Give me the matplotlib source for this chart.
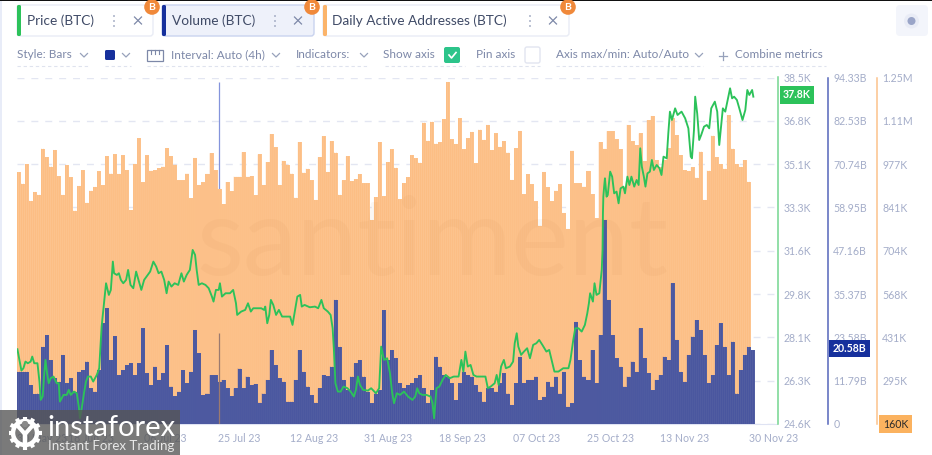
import numpy as np
import matplotlib
matplotlib.use('Agg')
import matplotlib.pyplot as plt
from matplotlib.patches import FancyBboxPatch, Rectangle, Circle

plt.rcParams['font.family'] = ['Lato', 'DejaVu Sans']

# daily active addresses, thousands, one value per day
dau_k = [952, 916, 977, 862, 890, 881, 1026, 999, 970, 1022, 939, 881, 974, 936, 831, 909, 958, 856, 894, 906,
         955, 911, 1003, 948, 1008, 947, 1005, 959, 833, 978, 1059, 921, 1005, 957, 958, 965, 970, 1028, 1002, 976,
         926, 926, 948, 870, 997, 912, 920, 947, 1012, 958, 900, 852, 921, 892, 938, 938, 1015, 938, 940, 879,
         1008, 912, 984, 1072, 1030, 912, 988, 976, 948, 872, 1047, 951, 963, 926, 865, 999, 1065, 953, 1050, 1014,
         881, 926, 1002, 924, 930, 946, 917, 917, 802, 874, 1047, 876, 984, 1024, 966, 867, 918, 936, 1005, 996,
         982, 1108, 1051, 1111, 1042, 1046, 1119, 1236, 1055, 1041, 1122, 1024, 1059, 1079, 980, 1086, 1054, 1101, 1022, 1074,
         1032, 1050, 1014, 928, 1027, 1082, 882, 946, 914, 860, 784, 953, 904, 861, 894, 914, 824, 774, 1020, 917,
         917, 907, 956, 883, 807, 1047, 1026, 1081, 1081, 1055, 1024, 907, 1101, 1049, 1037, 1074, 987, 1116, 1129, 990,
         969, 990, 1027, 1122, 1069, 1006, 959, 956, 967, 935, 1017, 865, 957, 1067, 999, 978, 963, 1132, 1026, 978,
         969, 990, 922]

# volume, billions, one value per day
volume_b = [14.2, 14.2, 14.2, 10.6, 8.2, 8.3, 21.0, 24.2, 17.4, 12.4, 11.5, 18.8, 11.1, 12.4, 8.8, 14.2, 14.7, 17.0, 9.7, 8.8,
            14.7, 27.4, 31.5, 17.4, 23.9, 13.3, 14.7, 16.0, 16.5, 13.3, 16.5, 26.0, 13.8, 10.6, 15.6, 12.0, 13.8, 21.5, 10.2, 7.6,
            8.8, 14.7, 11.1, 14.2, 25.6, 19.2, 7.9, 8.3, 13.3, 13.3, 11.5, 12.0, 9.7, 7.6, 9.7, 15.1, 9.7, 12.9, 10.6, 10.9,
            5.8, 8.3, 12.0, 20.1, 16.0, 12.4, 11.5, 6.1, 6.1, 12.0, 20.1, 14.2, 10.2, 7.9, 5.8, 9.7, 13.3, 13.0, 15.6, 33.8,
            21.0, 12.0, 9.2, 12.9, 16.5, 17.4, 12.9, 8.8, 5.6, 8.3, 9.2, 31.0, 17.4, 20.1, 17.9, 11.1, 9.7, 10.6, 11.1, 12.4,
            13.3, 9.7, 5.6, 9.2, 18.3, 15.6, 13.3, 12.9, 11.1, 6.5, 11.1, 14.2, 13.3, 12.9, 10.6, 8.8, 6.1, 9.7, 9.7, 8.8,
            11.1, 13.8, 8.3, 5.2, 11.1, 18.3, 11.1, 12.0, 12.0, 12.9, 6.5, 7.4, 11.5, 10.2, 12.9, 8.3, 14.2, 4.7, 5.6, 27.8,
            17.4, 12.9, 12.0, 20.1, 11.1, 24.2, 55.5, 33.8, 24.2, 17.9, 15.6, 10.2, 12.9, 17.0, 14.2, 26.0, 17.9, 13.8, 9.2, 12.0,
            13.3, 18.3, 17.4, 38.3, 22.9, 14.2, 11.5, 18.8, 23.8, 28.3, 25.6, 18.8, 11.1, 13.3, 21.5, 27.4, 21.0, 13.3, 22.4, 8.3,
            14.7, 18.8, 21.0, 20.1]

# the one 4h volume outlier that sticks out above everything
spike_day = 50.4
spike_top_b = 93.2
spike_low_b = 24.8

price_days = [0.1, 0.6, 1.1, 1.6, 2.1, 2.7, 3.4, 3.8, 4.3, 5.1, 5.6, 5.9, 6.4, 6.8, 7.1, 7.5, 7.9, 8.4, 9.1, 9.9,
              10.4, 10.7, 11.6, 12.4, 12.9, 13.4, 14.2, 14.9, 15.4, 15.7, 16.2, 16.7, 17.2, 17.7, 18.4, 19.0, 19.9, 20.5, 21.1, 21.7,
              22.2, 22.9, 23.4, 23.9, 24.2, 24.9, 25.4, 25.9, 26.5, 27.2, 27.7, 28.3, 29.0, 29.7, 30.3, 31.0, 31.7, 32.3, 33.2, 34.0,
              34.7, 35.3, 36.0, 36.7, 37.3, 37.8, 38.5, 39.3, 40.2, 41.0, 41.6, 42.3, 43.1, 43.8, 44.4, 44.8, 45.3, 46.1, 47.0, 47.8,
              48.6, 49.0, 49.6, 50.3, 50.6, 51.1, 52.0, 53.1, 53.9, 54.6, 54.9, 55.9, 56.9, 57.6, 58.3, 58.9, 59.8, 60.9, 61.6, 61.9,
              62.4, 62.9, 63.3, 63.9, 64.6, 65.3, 66.1, 67.1, 68.1, 68.7, 69.2, 69.9, 70.6, 71.0, 71.7, 73.0, 74.3, 75.1, 75.9, 76.5,
              77.5, 78.2, 78.7, 79.0, 79.4, 80.0, 80.7, 81.4, 82.4, 83.2, 84.0, 84.5, 85.0, 85.5, 86.3, 87.5, 88.3, 89.5, 90.3, 90.8,
              91.5, 92.3, 93.0, 93.5, 94.0, 94.7, 95.5, 96.5, 97.5, 98.6, 99.3, 99.8, 100.3, 101.1, 102.1, 103.1, 103.6, 104.0, 104.6, 105.3,
              106.1, 106.9, 107.9, 108.9, 110.1, 110.8, 111.3, 111.8, 112.4, 113.1, 113.8, 114.6, 116.1, 116.8, 117.4, 118.1, 119.1, 119.6, 120.1, 120.7,
              121.4, 121.9, 122.9, 123.7, 124.1, 124.6, 125.0, 125.7, 126.4, 127.2, 127.9, 128.7, 129.5, 130.2, 131.0, 132.0, 132.7, 133.2, 134.0, 135.0,
              136.2, 137.5, 138.0, 138.7, 139.2, 140.0, 140.8, 141.6, 142.2, 142.6, 142.9, 143.6, 144.0, 144.5, 145.2, 145.8, 146.0, 146.1, 146.2, 146.4,
              146.6, 147.0, 147.3, 147.9, 148.4, 148.9, 149.5, 150.0, 150.5, 151.2, 151.6, 152.2, 152.7, 153.2, 153.9, 154.5, 155.0, 155.4, 155.8, 156.3,
              156.7, 157.2, 157.8, 158.3, 158.8, 159.5, 160.2, 160.7, 161.2, 162.0, 162.4, 162.8, 163.3, 164.1, 164.7, 165.7, 166.6, 167.4, 168.0, 168.3,
              168.8, 169.1, 169.6, 170.1, 170.6, 171.3, 172.0, 172.6, 173.1, 174.0, 174.6, 175.1, 176.0, 176.6, 177.8, 178.3, 178.8, 179.5, 180.1, 180.9,
              181.6, 182.1, 182.6, 183.3, 183.6]

price_usd = [27600, 27171, 26743, 26837, 27104, 27037, 27104, 27305, 27037, 27037, 26302, 25567, 25700, 26636, 27171, 26636, 26235, 26436, 26503, 26235,
             26235, 25500, 25767, 25767, 25968, 25767, 25901, 25834, 25299, 24831, 25299, 25834, 26302, 26503, 26503, 26302, 26569, 26837, 28508, 29444,
             30246, 29778, 29979, 31115, 30647, 30580, 30647, 30380, 30246, 30380, 30781, 30179, 30046, 30714, 30380, 29979, 30380, 30514, 30714, 31115,
             30915, 30647, 30714, 30380, 29845, 30313, 30112, 30246, 30179, 30647, 30313, 30580, 30781, 31583, 31383, 30781, 30179, 30246, 30179, 30046,
             29711, 29511, 29979, 29979, 30246, 29711, 29845, 29845, 29979, 29444, 28976, 29110, 29177, 29444, 29110, 29243, 29243, 29243, 29177, 29310,
             28642, 28976, 29578, 29377, 28976, 29177, 28909, 28909, 28909, 28575, 29043, 29711, 29778, 29310, 29377, 29283, 29310, 29243, 29578, 29243,
             29110, 28976, 28441, 27639, 26235, 25901, 25901, 26101, 26035, 25901, 25700, 25968, 26503, 26168, 25968, 25941, 26035, 25834, 26035, 27706,
             27171, 27238, 26636, 25901, 25433, 25834, 25767, 25901, 25700, 25567, 25700, 26035, 25834, 25767, 25767, 25700, 25433, 24831, 26035, 26101,
             26369, 26569, 26436, 26503, 26503, 27171, 26703, 27505, 26904, 26970, 26569, 26503, 26503, 26503, 26035, 26101, 26235, 26569, 26168, 26904,
             27171, 26837, 26904, 27104, 27840, 28241, 27706, 27372, 27505, 27639, 27238, 27773, 27840, 27973, 27773, 27505, 27572, 27238, 26703, 26703,
             26837, 26837, 27171, 27973, 28441, 28441, 28307, 28575, 29043, 29444, 29845, 29511, 30246, 29778, 29845, 30781, 31581, 33052, 33720, 34122,
             34456, 33720, 33787, 34723, 34523, 33854, 33921, 33453, 34054, 34122, 33854, 34523, 34188, 34523, 34122, 34389, 34188, 35659, 34924, 34523,
             34122, 34656, 34723, 35191, 34790, 34991, 34857, 34589, 35325, 35258, 36261, 37130, 36796, 37263, 36996, 37130, 36862, 36461, 35325, 35258,
             36394, 37731, 37063, 35993, 36194, 36528, 36595, 36461, 37263, 37531, 37130, 35793, 37263, 37130, 38066, 37665, 37731, 37598, 37263, 36795,
             37197, 37999, 37798, 37999, 37731]

date_labels = ['30 May 23', '18 Jun 23', '06 Jul 23', '25 Jul 23', '12 Aug 23', '31 Aug 23', '18 Sep 23', '07 Oct 23', '25 Oct 23', '13 Nov 23']
tick_days = [0, 18.5, 37, 55.5, 74, 92.5, 111, 129.5, 148, 166.5]
last_date = '30 Nov 23'

price_labels = ['24.6K', '26.3K', '28.1K', '29.8K', '31.6K', '33.3K', '35.1K', '36.8K', '38.5K']
volume_labels = ['0', '11.79B', '23.58B', '35.37B', '47.16B', '58.95B', '70.74B', '82.53B', '94.33B']
dau_labels = ['', '295K', '431K', '568K', '704K', '841K', '977K', '1.11M', '1.25M']

last_price = 37800
last_volume = 20.58
min_dau = 160

GREEN = '#2cc25a'
BLUE = '#16309c'
ORANGE = '#fbb46a'
GREY = '#a4adc9'
UI_TEXT = '#7d88a8'

W, H = 932, 455
fig = plt.figure(figsize=(W / 100, H / 100), dpi=100, facecolor='white')

# plot box 17..777 x 77.5..424 px
ax = fig.add_axes([17 / W, 1 - 424 / H, 760 / W, 346.5 / H])
ax_vol = ax.twinx()
ax_dau = ax.twinx()
ax_dau.set_zorder(1)
ax_vol.set_zorder(2)
ax.set_zorder(3)
ax.patch.set_visible(False)
ax_vol.patch.set_visible(False)
ax_dau.patch.set_facecolor('white')

ax.set_xlim(0, 189.5)
ax.set_ylim(24600, 38500)
ax_vol.set_ylim(0, 94.33)
ax_dau.set_ylim(min_dau, 1250)

# the outlier is only seen above the orange, so it goes under it
ax_dau.vlines(spike_day, min_dau, spike_top_b / 94.33 * 1090 + min_dau, color='#8494dc', lw=0.9, zorder=0.9)

# solid silhouette first, thin darker stripes on top (2 per day)
ax_dau.stairs(dau_k, np.arange(len(dau_k) + 1), fill=True, baseline=min_dau, color='#fdc48f', linewidth=0)
d = np.arange(len(dau_k) * 2) / 2
ax_dau.bar(d, np.repeat(dau_k, 2), width=0.25, align='edge', color='#fcb676', alpha=0.45, linewidth=0, snap=False)

ax_vol.stairs(volume_b, np.arange(len(volume_b) + 1), fill=True, baseline=0, color='#525ea2', linewidth=0)
v = np.arange(len(volume_b) * 2) / 2
ax_vol.bar(v, np.repeat(volume_b, 2), width=0.25, align='edge', color='#3d4b9c', alpha=0.45, linewidth=0, snap=False)
ax_vol.vlines(spike_day, 0, spike_low_b, color='#9c7a70', lw=0.9)

ax.plot(price_days, price_usd, color=GREEN, lw=1.35, solid_joinstyle='round')

# grid lives on the bottom axes
ax_dau.set_yticks(np.linspace(min_dau, 1250, 9))
ax_dau.set_yticklabels(dau_labels)
ax_vol.set_yticks(np.linspace(0, 94.33, 9))
ax_vol.set_yticklabels(volume_labels)
ax.set_yticks(np.linspace(24600, 38500, 9))
ax.set_yticklabels(price_labels)
ax.yaxis.tick_right()
ax.set_xticks(tick_days)
ax.set_xticklabels(date_labels)
ax.get_xticklabels()[0].set_ha('left')
ax_dau.set_xticks(tick_days)
ax_dau.grid(True, axis='both', color='#e3e6f2', lw=1, dashes=(5, 5))
ax_dau.set_axisbelow(True)

FS = 7.6
for a in (ax, ax_vol, ax_dau):
    for s in a.spines.values():
        s.set_visible(False)
    a.tick_params(axis='both', length=0, labelsize=FS, labelcolor=GREY, pad=3.8)
ax.tick_params(axis='x', pad=6.5)
ax_dau.tick_params(axis='x', labelbottom=False)
ax_dau.spines['bottom'].set_visible(True)
ax_dau.spines['bottom'].set_color('#dfe3f3')

ax.spines['right'].set_visible(True)
ax.spines['right'].set_position(('outward', 0.7))
ax.spines['right'].set_color('#74d690')
ax.spines['right'].set_linewidth(1.1)
ax_vol.spines['right'].set_visible(True)
ax_vol.spines['right'].set_position(('outward', 36.7))
ax_vol.spines['right'].set_color('#5566bb')
ax_vol.spines['right'].set_linewidth(1.1)
ax_dau.spines['right'].set_visible(True)
ax_dau.spines['right'].set_position(('outward', 72))
ax_dau.spines['right'].set_color('#fcc28c')
ax_dau.spines['right'].set_linewidth(1.1)

ax.annotate(last_date, xy=(183.4, 0), xycoords=ax.get_xaxis_transform(), xytext=(-2.5, -6.5),
            textcoords='offset points', ha='left', va='top', fontsize=FS, color=GREY)

# last value pills
ax.annotate('37.8K', xy=(1, last_price), xycoords=ax.get_yaxis_transform(), xytext=(14.4, 0),
            textcoords='offset points', ha='center', va='center', fontsize=FS, fontweight='bold', color='white',
            bbox=dict(boxstyle='square,pad=0.3', fc=GREEN, ec='none'))
ax_vol.annotate('20.58B', xy=(1, last_volume), xycoords=ax_vol.get_yaxis_transform(), xytext=(52.2, 0),
                textcoords='offset points', ha='center', va='center', fontsize=FS, fontweight='bold', color='white',
                bbox=dict(boxstyle='square,pad=0.3', fc=BLUE, ec='none'))
ax_dau.annotate('160K', xy=(1, min_dau), xycoords=ax_dau.get_yaxis_transform(), xytext=(85.3, 0),
                textcoords='offset points', ha='center', va='center', fontsize=FS, color='#2a2a2a',
                bbox=dict(boxstyle='square,pad=0.35', fc='#fbb25f', ec='none'))

# everything else is drawn in pixel coordinates on top
ui = fig.add_axes([0, 0, 1, 1], zorder=10)
ui.set_xlim(0, W)
ui.set_ylim(H, 0)
ui.axis('off')

ui.add_patch(Rectangle((0, 0), W, 1.2, fc='#111111', ec='none'))
ui.add_patch(Rectangle((0, 1), 1.5, H, fc='#e8ecf8', ec='none'))

ui.text(432, 245, 'santiment', fontsize=78, color='#b87a3a', alpha=0.06, ha='center', va='center')


def tab(x0, x1, bar_color, label, text_x, dots_x, close_x, badge_x, fill='white', edge='#e9ecf5'):
    ui.add_patch(FancyBboxPatch((x0, 5), x1 - x0, 31, boxstyle='round,pad=0,rounding_size=3', fc=fill, ec=edge, lw=1))
    ui.add_patch(FancyBboxPatch((x0, 5), 4, 31, boxstyle='round,pad=0,rounding_size=1.5', fc=bar_color, ec='none'))
    ui.text(text_x, 20.5, label, fontsize=9.8, color='#3f4a66', va='center')
    for dy in (-5, 0, 5):
        ui.add_patch(Circle((dots_x, 21 + dy), 0.9, fc='#98a2bc', ec='none'))
    ui.plot([close_x - 3.5, close_x + 3.5], [17, 24], color='#7d88a8', lw=0.9)
    ui.plot([close_x - 3.5, close_x + 3.5], [24, 17], color='#7d88a8', lw=0.9)
    ui.add_patch(Circle((badge_x, 7), 7.8, fc='#f0893a', ec='none'))
    ui.text(badge_x, 7, 'B', fontsize=7.5, fontweight='bold', color='white', ha='center', va='center')


tab(17, 153, GREEN, 'Price (BTC)', 27, 114, 138, 152)
tab(162, 314, BLUE, 'Volume (BTC)', 172, 275, 298, 312, fill='#eef1fa', edge='#c9d3ef')
tab(323, 569, ORANGE, 'Daily Active Addresses (BTC)', 332, 530, 553, 568)

ui.add_patch(FancyBboxPatch((896, 5), 32, 31, boxstyle='round,pad=0,rounding_size=4', fc='#f3f5fb', ec='none'))
ui.add_patch(Circle((911.5, 21), 7.5, fc='#e9ecf6', ec='none'))
ui.add_patch(Circle((911.5, 21), 4, fc='#9aa5c8', ec='none'))

# toolbar row
row = [('Style: Bars', 17), ('Interval: Auto (4h)', 171), ('Indicators:', 296), ('Show axis', 383),
       ('Pin axis', 476), ('Axis max/min: Auto/Auto', 556), ('Combine metrics', 735)]
for label, x0 in row:
    ui.text(x0, 54.5, label, fontsize=8.5, color=UI_TEXT, va='center')
for x0, x1 in [(17, 90), (105, 131), (147, 280), (296, 368), (385, 465), (476, 540), (556, 703), (720, 826)]:
    ui.plot([x0, x1], [66, 66], color='#dfe3ee', lw=0.8, dashes=(3, 2.5))


def chevron(x):
    ui.plot([x - 3.5, x, x + 3.5], [53.5, 57, 53.5], color='#97a1bb', lw=0.9)


for x in (84, 126, 276, 364, 699):
    chevron(x)

ui.add_patch(FancyBboxPatch((105, 50), 10, 10, boxstyle='round,pad=0,rounding_size=1.5', fc=BLUE, ec='none'))
ui.add_patch(Rectangle((147, 50), 16, 11, fc='none', ec='#7d88a8', lw=0.9))
for x in (151, 155, 159):
    ui.plot([x, x], [50, 54], color='#7d88a8', lw=0.8)
ui.add_patch(FancyBboxPatch((444, 47), 16, 16, boxstyle='round,pad=0,rounding_size=2', fc='#2cc48a', ec='none'))
ui.plot([449, 451.5, 456], [55, 58, 52.5], color='white', lw=1.2)
ui.add_patch(FancyBboxPatch((525, 47), 15, 16, boxstyle='round,pad=0,rounding_size=2', fc='white', ec='#e2e5f0', lw=1))
ui.plot([719, 727], [55.5, 55.5], color='#97a1bb', lw=0.9)
ui.plot([723, 723], [51.5, 59.5], color='#97a1bb', lw=0.9)

# instaforex logo over the lower left corner
ui.add_patch(Rectangle((0, 410), 180, 45, fc='#555555', ec='none', alpha=0.78))
ui.add_patch(Circle((25, 433), 12, fc='none', ec='white', lw=3.2))
for ang in np.arange(0, 360, 30):
    c, s = np.cos(np.radians(ang)), np.sin(np.radians(ang))
    ui.plot([25 + 12 * c, 25 + 16.5 * c], [433 + 12 * s, 433 + 16.5 * s], color='white', lw=3, solid_capstyle='butt')
ui.plot([25, 25], [432, 447], color='white', lw=3.2, solid_capstyle='butt')
ui.plot([16, 25, 34], [424, 434, 424], color='white', lw=3, solid_capstyle='butt')
ui.add_patch(Circle((25, 424), 3.2, fc='#8a8a8a', ec='none'))
ui.text(47, 428, 'instaforex', fontsize=21, color='white', va='center', ha='left')
ui.text(48, 446, 'Instant Forex Trading', fontsize=9.6, color='#e8e8e8', va='center', ha='left')

fig.savefig('out.png', dpi=100)
